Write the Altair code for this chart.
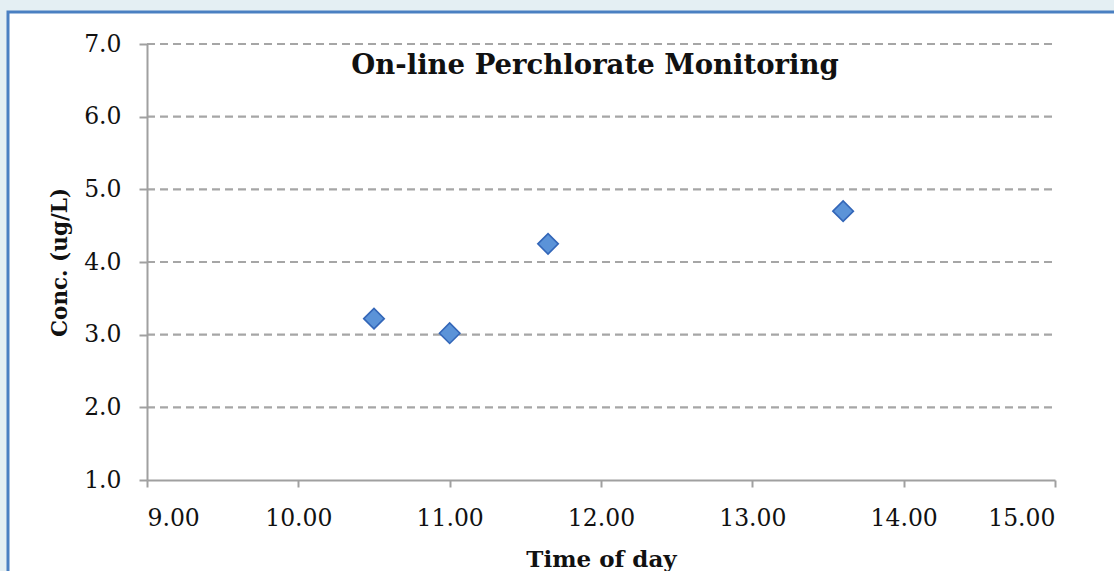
import altair as alt
import pandas as pd

time_of_day = [10.50, 11.00, 11.65, 13.60]
conc = [3.22, 3.02, 4.25, 4.70]
grid_values = [2.0, 3.0, 4.0, 5.0, 6.0, 7.0]
x_ticks = [9, 10, 11, 12, 13, 14, 15]
y_ticks = [1, 2, 3, 4, 5, 6, 7]
title_text = "On-line Perchlorate Monitoring"

FONT = "DejaVu Serif"
W, H = 908, 436

df = pd.DataFrame({"t": time_of_day, "c": conc})
grid_df = pd.DataFrame({"g": grid_values})
one = pd.DataFrame({"k": [0]})

xs = alt.Scale(domain=[9, 15], nice=False, zero=False)
ys = alt.Scale(domain=[1, 7], nice=False, zero=False)

x_axis = alt.Axis(
    values=x_ticks, format=".2f", title="Time of day", grid=False,
    domainColor="#a0a0a0", domainWidth=2, tickColor="#a0a0a0", tickWidth=2,
    tickSize=7, labelFont=FONT, labelFontSize=23.5, labelColor="#111111",
    labelPadding=19, titleFont=FONT, titleFontSize=23, titleFontWeight="bold",
    titleColor="#111111", titleY=79, titleBaseline="middle", zindex=1,
)
y_axis = alt.Axis(
    values=y_ticks, format=".1f", title="Conc. (ug/L)", grid=False,
    domainColor="#a0a0a0", domainWidth=2, tickColor="#a0a0a0", tickWidth=2,
    tickSize=8, labelFont=FONT, labelFontSize=23.5, labelColor="#111111",
    labelPadding=18, titleFont=FONT, titleFontSize=21.5, titleFontWeight="bold",
    titleColor="#111111", titleX=-87, titleY=H / 2, titleBaseline="middle",
    titleAngle=270, zindex=1,
)

frame = alt.Chart(one).mark_rect(
    fill="white", stroke="#4a80c2", strokeWidth=3, clip=False
).encode(
    x=alt.value(-139), x2=alt.value(990), y=alt.value(-32), y2=alt.value(560)
)

grid = alt.Chart(grid_df).mark_rule(
    color="#a6a6a6", strokeWidth=2.2, strokeDash=[8, 5]
).encode(
    y=alt.Y("g:Q", scale=ys, axis=y_axis),
    x=alt.value(0), x2=alt.value(W),
)

points = alt.Chart(df).mark_point(
    shape="diamond", size=420, filled=True, fill="#5b93d8",
    stroke="#3366b8", strokeWidth=1.6, opacity=1
).encode(
    x=alt.X("t:Q", scale=xs, axis=x_axis),
    y=alt.Y("c:Q", scale=ys, axis=y_axis),
)

title = alt.Chart(one).mark_text(
    text=title_text, font=FONT, fontSize=27.5, fontWeight="bold", color="#111111",
    align="center", baseline="middle"
).encode(x=alt.value(448), y=alt.value(22))

chart = alt.layer(frame, grid, points, title).properties(
    width=W, height=H,
    background="#e4eff3",
    padding={"left": 147, "top": 44, "right": 59, "bottom": 91},
    autosize=alt.AutoSizeParams(type="none"),
).configure_view(stroke=None)

chart.save("out.html", embed_options={"renderer": "svg", "actions": False})
